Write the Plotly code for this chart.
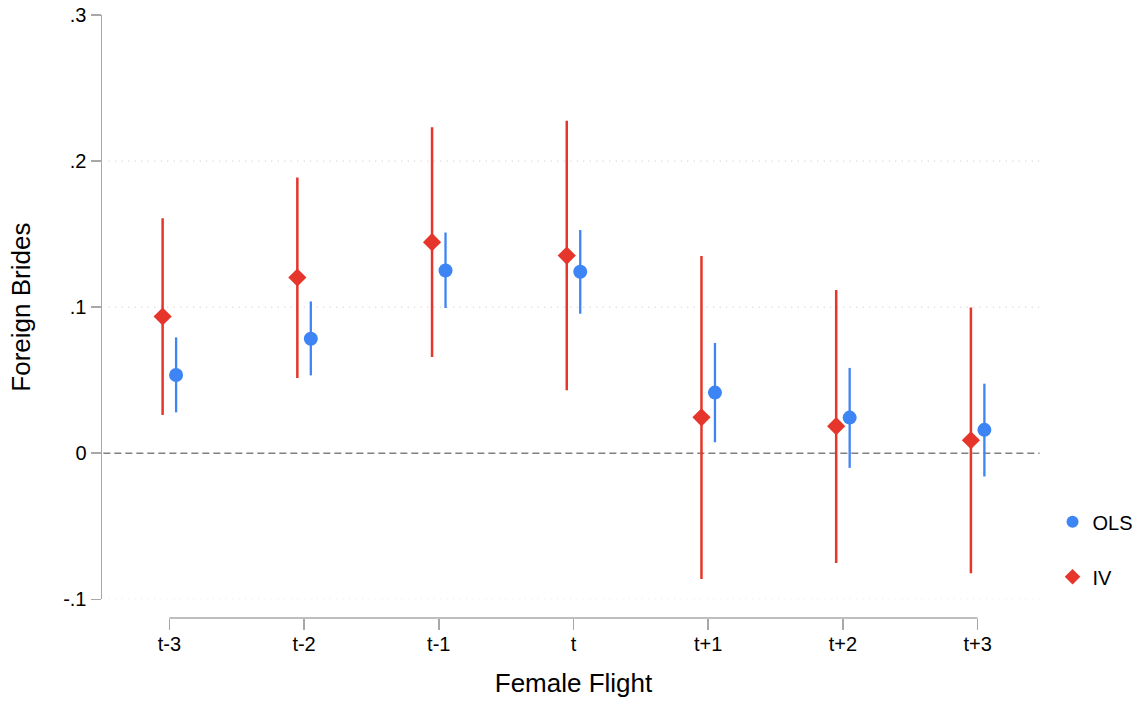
import numpy as np
import plotly.graph_objects as go

# ---- data ----
categories = ["t-3", "t-2", "t-1", "t", "t+1", "t+2", "t+3"]

ols_est = [0.0536, 0.0784, 0.1251, 0.1242, 0.0415, 0.0244, 0.0160]
ols_lo = [0.0280, 0.0533, 0.0994, 0.0955, 0.0075, -0.0100, -0.0159]
ols_hi = [0.0793, 0.1039, 0.1511, 0.1529, 0.0755, 0.0584, 0.0476]

iv_est = [0.0936, 0.1203, 0.1445, 0.1353, 0.0246, 0.0185, 0.0089]
iv_lo = [0.0262, 0.0515, 0.0659, 0.0431, -0.0861, -0.0752, -0.0822]
iv_hi = [0.1609, 0.1887, 0.2231, 0.2276, 0.1351, 0.1117, 0.0998]

y_tickvals = [-0.1, 0, 0.1, 0.2, 0.3]
y_ticktext = ["-.1", "0", ".1", ".2", ".3"]
grid_vals = [-0.1, 0.1, 0.2]

# ---- style ----
FONT = "Liberation Sans, Arial, Helvetica, sans-serif"
RED = "#E6352A"
BLUE = "#3D84F5"
AXIS = "#A8A8A8"
GRID = "#C4C4C4"
OFF = 0.05

idx = np.arange(len(categories))

fig = go.Figure()

fig.add_trace(go.Scatter(
    x=idx + OFF, y=ols_est, mode="markers", name="OLS", legendgroup="ols",
    marker=dict(symbol="circle", size=14, color=BLUE),
    error_y=dict(type="data", symmetric=False,
                 array=np.array(ols_hi) - np.array(ols_est),
                 arrayminus=np.array(ols_est) - np.array(ols_lo),
                 width=0, thickness=2.3, color=BLUE),
))
fig.add_trace(go.Scatter(
    x=idx - OFF, y=iv_est, mode="markers", name="IV", legendgroup="iv",
    marker=dict(symbol="diamond", size=14, color=RED),
    error_y=dict(type="data", symmetric=False,
                 array=np.array(iv_hi) - np.array(iv_est),
                 arrayminus=np.array(iv_est) - np.array(iv_lo),
                 width=0, thickness=2.5, color=RED),
))

shapes = []
for g in grid_vals:
    shapes.append(dict(type="line", xref="x", yref="y", x0=-0.45, x1=6.46, y0=g, y1=g,
                       line=dict(color=GRID, width=1, dash="1px,5.5px"), layer="below"))
# zero reference line
shapes.append(dict(type="line", xref="x", yref="y", x0=-0.49, x1=6.46, y0=0, y1=0,
                   line=dict(color="#808080", width=1.6, dash="7px,4px"), layer="below"))
# x axis line spanning only the categories
shapes.append(dict(type="line", xref="x", yref="paper", x0=0, x1=len(categories) - 1, y0=0, y1=0,
                   line=dict(color=AXIS, width=1.5)))

fig.update_layout(
    width=1145, height=704,
    margin=dict(l=102, r=100, t=15, b=86, autoexpand=False),
    paper_bgcolor="white", plot_bgcolor="white",
    font=dict(family=FONT, color="#000000", size=20),
    showlegend=True, hovermode=False,
    legend=dict(x=1.008, xanchor="left", y=0.192, yanchor="top",
                font=dict(size=20, family=FONT), tracegroupgap=26,
                bgcolor="rgba(0,0,0,0)", itemsizing="constant"),
    shapes=shapes,
    xaxis=dict(range=[-0.5, 6.5], tickvals=list(idx), ticktext=categories,
               showgrid=False, zeroline=False, showline=False, automargin=False,
               ticks="outside", ticklen=11, tickwidth=1.5, tickcolor=AXIS,
               anchor="free", position=0, ticklabelstandoff=-3,
               tickfont=dict(size=20, family=FONT),
               title=dict(text="Female Flight", font=dict(size=26, family=FONT), standoff=19)),
    yaxis=dict(range=[-0.1, 0.3], domain=[0.031, 1], tickvals=y_tickvals, ticktext=y_ticktext,
               showgrid=False, zeroline=False, showline=True, linecolor=AXIS, linewidth=1.5,
               automargin=False, ticklabeloverflow="allow",
               ticks="outside", ticklen=10, tickwidth=1.5, tickcolor=AXIS,
               tickfont=dict(size=20, family=FONT),
               title=dict(text="Foreign Brides", font=dict(size=26, family=FONT), standoff=25)),
)

fig.write_html("out.html", config={"displayModeBar": False, "staticPlot": True},
               post_script="document.body.style.margin='0px';")
